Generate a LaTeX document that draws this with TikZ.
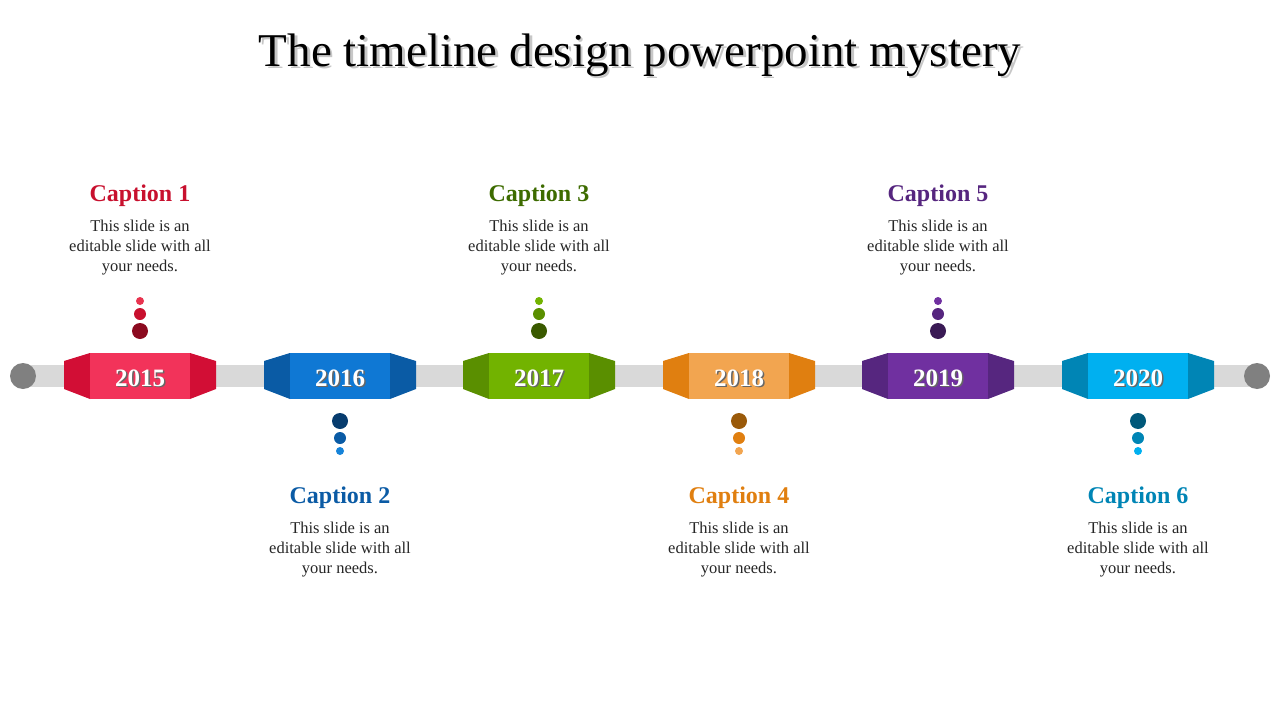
\documentclass[tikz,border=0pt]{standalone}
\usepackage{fontspec}
\setmainfont{Liberation Serif}
\usetikzlibrary{shapes}

% timeline colours: main, side, light, mid, dark, caption
\definecolor{c1main}{HTML}{F2335A}\definecolor{c1side}{HTML}{D20E35}
\definecolor{c1lt}{HTML}{E8334F}\definecolor{c1md}{HTML}{C8102E}
\definecolor{c1dk}{HTML}{8B0A1F}\definecolor{c1cap}{HTML}{C8102E}
\definecolor{c2main}{HTML}{0F78D4}\definecolor{c2side}{HTML}{0A5BA5}
\definecolor{c2lt}{HTML}{1683D9}\definecolor{c2md}{HTML}{0A5BA5}
\definecolor{c2dk}{HTML}{073C6E}\definecolor{c2cap}{HTML}{0B5BA5}
\definecolor{c3main}{HTML}{72B300}\definecolor{c3side}{HTML}{5A8F00}
\definecolor{c3lt}{HTML}{72B300}\definecolor{c3md}{HTML}{5A8F00}
\definecolor{c3dk}{HTML}{3A5A00}\definecolor{c3cap}{HTML}{3D6B00}
\definecolor{c4main}{HTML}{F2A550}\definecolor{c4side}{HTML}{E07F10}
\definecolor{c4lt}{HTML}{F2A550}\definecolor{c4md}{HTML}{E07F10}
\definecolor{c4dk}{HTML}{9A5A0A}\definecolor{c4cap}{HTML}{E07F10}
\definecolor{c5main}{HTML}{7030A0}\definecolor{c5side}{HTML}{56267F}
\definecolor{c5lt}{HTML}{7030A0}\definecolor{c5md}{HTML}{56267F}
\definecolor{c5dk}{HTML}{3A1A55}\definecolor{c5cap}{HTML}{56267F}
\definecolor{c6main}{HTML}{00B0F0}\definecolor{c6side}{HTML}{0085B5}
\definecolor{c6lt}{HTML}{00B0F0}\definecolor{c6md}{HTML}{0085B5}
\definecolor{c6dk}{HTML}{00587A}\definecolor{c6cap}{HTML}{0085B5}
\definecolor{barGray}{HTML}{D9D9D9}
\definecolor{endGray}{HTML}{808080}

\begin{document}
\begin{tikzpicture}[x=1pt,y=-1pt,
	year node/.style={text=white,font=\fontsize{25}{25}\selectfont\bfseries},
	year shadow/.style={text=black!60,font=\fontsize{25}{25}\selectfont\bfseries},
	caption node/.style={font=\fontsize{24}{24}\selectfont\bfseries},
	body node/.style={align=center,text=black!85,font=\fontsize{16.5}{20}\selectfont}
]
	\useasboundingbox (0,0) rectangle (1280,720);

	\def \lineY {376};

	% title
	\node[text=black!22,font=\fontsize{47}{47}\selectfont] at (642.5,57.5) {The timeline design powerpoint mystery};
	\node[font=\fontsize{47}{47}\selectfont] (title) at (640,55) {The timeline design powerpoint mystery};

	% base line
	\coordinate (left end) at (23,\lineY);
	\coordinate (right end) at (1257,\lineY);
	\draw[barGray,line width=22pt] (left end) -- (right end);
	\fill[endGray] (left end) circle (13);
	\fill[endGray] (right end) circle (13);

	\foreach \i/\x/\yr/\s in {1/140/2015/-1,2/340/2016/1,3/539/2017/-1,4/739/2018/1,5/938/2019/-1,6/1138/2020/1} {
		% block
		\fill[c\i side] (\x-76,\lineY-15) -- (\x-50,\lineY-23) -- (\x-50,\lineY+23) -- (\x-76,\lineY+13) -- cycle;
		\fill[c\i side] (\x+76,\lineY-15) -- (\x+50,\lineY-23) -- (\x+50,\lineY+23) -- (\x+76,\lineY+13) -- cycle;
		\fill[c\i main] (\x-50,\lineY-23) rectangle (\x+50,\lineY+23);
		\node[year shadow] at (\x+1.5,\lineY+3.5) {\yr};
		\node[year node] (y\i) at (\x,\lineY+2) {\yr};
		% dots
		\fill[c\i dk] (\x,\lineY+\s*45) circle (8);
		\fill[c\i md] (\x,\lineY+\s*62) circle (6);
		\fill[c\i lt] (\x,\lineY+\s*75) circle (4);
		% texts
		\node[caption node,text=c\i cap] (cap\i) at (\x,347+151*\s) {Caption \i};
		\node[body node] (txt\i) at (\x,399+151*\s) {This slide is an\\editable slide with all\\your needs.};
	}
\end{tikzpicture}
\end{document}
